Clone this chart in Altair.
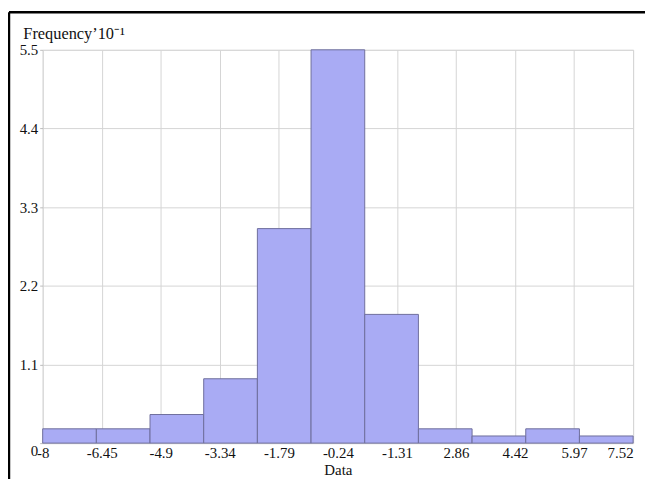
import json
import numpy as np
import pandas as pd
import altair as alt

# --- data ---
counts = [0.2, 0.2, 0.4, 0.9, 3.0, 5.5, 1.8, 0.2, 0.1, 0.2, 0.1]
x_labels = ["-8", "-6.45", "-4.9", "-3.34", "-1.79", "-0.24", "-1.31",
            "2.86", "4.42", "5.97", "7.52"]
y_ticks = [0, 1.1, 2.2, 3.3, 4.4, 5.5]
x_min, x_max = -8.0, 7.52

edges = np.linspace(x_min, x_max, len(counts) + 1)
tick_vals = [float(v) for v in np.linspace(x_min, x_max, len(x_labels))]
step = (x_max - x_min) / (len(x_labels) - 1)

df = pd.DataFrame({"start": edges[:-1], "end": edges[1:], "count": counts,
                   "base": [0.0] * len(counts)})

FONT = "Liberation Serif"
label_expr = f"{json.dumps(x_labels)}[round((datum.value - ({x_min})) / {step})]"

bars = alt.Chart(df).mark_rect(
    color="#a9abf4", stroke="#6e6e9c", strokeWidth=1
).encode(
    x=alt.X("start:Q",
            scale=alt.Scale(domain=[x_min, x_max], nice=False, zero=False),
            axis=alt.Axis(values=tick_vals, labelExpr=label_expr,
                          title="Data", titleFont=FONT, titleFontSize=15,
                          titleFontWeight="normal", titleColor="#111",
                          titleY=32, titleBaseline="alphabetic",
                          labelFont=FONT, labelFontSize=15, labelColor="#111",
                          labelPadding=3, ticks=False, domain=False,
                          grid=True, gridColor="#d4d4d4", labelOverlap=False,
                          labelAlign={"condition": {"test": "datum.value > 7", "value": "right"},
                                      "value": "center"})),
    x2="end:Q",
    y=alt.Y("count:Q",
            scale=alt.Scale(domain=[0, 5.5], nice=False, zero=True),
            axis=alt.Axis(values=y_ticks,
                          labelExpr="format(datum.value, '.2~g')",
                          title="Frequency\u201910\u207b\u00b9", titleAngle=0,
                          titleAlign="left", titleBaseline="alphabetic",
                          titleX=-20, titleY=-11, titleFont=FONT,
                          titleFontSize=16.5, titleFontWeight="normal",
                          titleColor="#111",
                          labelFont=FONT, labelFontSize=15, labelColor="#111",
                          labelPadding=2, tickSize=3, tickColor="#bbbbbb",
                          domain=False, grid=True, gridColor="#d4d4d4",
                          labelBaseline={"condition": {"test": "datum.value == 0", "value": "top"},
                                         "value": "middle"})),
    y2="base:Q",
)

frame_df = pd.DataFrame({"a": [0]})
top_line = alt.Chart(frame_df).mark_rule(color="black", strokeWidth=2.5).encode(
    x=alt.value(-34), x2=alt.value(620), y=alt.value(-38))
left_line = alt.Chart(frame_df).mark_rule(color="black", strokeWidth=2.5).encode(
    x=alt.value(-34), y=alt.value(-38), y2=alt.value(440))

chart = alt.layer(bars, top_line, left_line).properties(
    width=596, height=397,
    autosize=alt.AutoSizeParams(type="none"),
    padding={"left": 35, "top": 40, "right": 12, "bottom": 34},
).configure_view(
    fill="#f7f7f7", stroke="#c8c8c8", strokeWidth=1
).configure(background="white")

chart.save("out.html", embed_options={"renderer": "svg", "actions": False})
